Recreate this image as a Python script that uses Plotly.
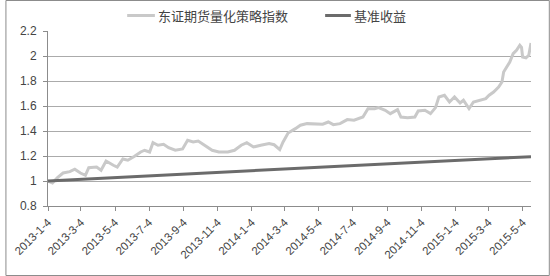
import plotly.graph_objects as go

# ---- data ----
index_dates = [
    "2013-01-04", "2013-01-12", "2013-01-21", "2013-01-31", "2013-02-12", "2013-02-21",
    "2013-03-03", "2013-03-12", "2013-03-18", "2013-04-01", "2013-04-09", "2013-04-18",
    "2013-05-01", "2013-05-08", "2013-05-18", "2013-05-27", "2013-06-08", "2013-06-19",
    "2013-06-26", "2013-07-05", "2013-07-11", "2013-07-20", "2013-07-30", "2013-08-08",
    "2013-08-20", "2013-09-02", "2013-09-11", "2013-09-21", "2013-09-30", "2013-10-12",
    "2013-10-25", "2013-11-06", "2013-11-22", "2013-12-04", "2013-12-16", "2013-12-26",
    "2014-01-07", "2014-01-20", "2014-02-04", "2014-02-13", "2014-02-23", "2014-03-01",
    "2014-03-10", "2014-03-23", "2014-04-01", "2014-04-13", "2014-05-02", "2014-05-11",
    "2014-05-21", "2014-05-30", "2014-06-11", "2014-06-24", "2014-07-06", "2014-07-22",
    "2014-07-31", "2014-08-12", "2014-08-19", "2014-08-31", "2014-09-09", "2014-09-22",
    "2014-09-28", "2014-10-10", "2014-10-23", "2014-10-29", "2014-11-10", "2014-11-20",
    "2014-11-29", "2014-12-05", "2014-12-15", "2014-12-24", "2015-01-02", "2015-01-12",
    "2015-01-18", "2015-01-28", "2015-02-05", "2015-02-18", "2015-02-27", "2015-03-05",
    "2015-03-13", "2015-03-22", "2015-03-28", "2015-03-31", "2015-04-06", "2015-04-11",
    "2015-04-17", "2015-04-23", "2015-04-29", "2015-05-02", "2015-05-04", "2015-05-10",
    "2015-05-15", "2015-05-19",
]
index_values = [
    1.000, 0.985, 1.027, 1.064, 1.075, 1.094,
    1.064, 1.046, 1.107, 1.112, 1.086, 1.160,
    1.126, 1.112, 1.176, 1.166, 1.198, 1.232,
    1.246, 1.232, 1.307, 1.286, 1.294, 1.267,
    1.246, 1.256, 1.326, 1.312, 1.320, 1.286,
    1.246, 1.232, 1.232, 1.246, 1.286, 1.307,
    1.272, 1.286, 1.299, 1.290, 1.251, 1.312,
    1.384, 1.419, 1.446, 1.459, 1.459, 1.454,
    1.472, 1.451, 1.459, 1.491, 1.486, 1.512,
    1.579, 1.579, 1.587, 1.566, 1.539, 1.571,
    1.512, 1.506, 1.512, 1.560, 1.566, 1.539,
    1.587, 1.672, 1.686, 1.632, 1.672, 1.624,
    1.646, 1.579, 1.632, 1.651, 1.659, 1.686,
    1.712, 1.752, 1.792, 1.872, 1.912, 1.952,
    2.019, 2.046, 2.086, 2.070, 1.992, 1.986,
    2.006, 2.104,
]
bench_dates = ["2013-01-04", "2013-07-04", "2014-01-04", "2014-07-04", "2015-01-04", "2015-05-19"]
bench_values = [1.000, 1.040, 1.080, 1.122, 1.160, 1.195]

tick_dates = [
    "2013-01-04", "2013-03-04", "2013-05-04", "2013-07-04", "2013-09-04", "2013-11-04",
    "2014-01-04", "2014-03-04", "2014-05-04", "2014-07-04", "2014-09-04", "2014-11-04",
    "2015-01-04", "2015-03-04", "2015-05-04",
]
tick_labels = [
    "2013-1-4", "2013-3-4", "2013-5-4", "2013-7-4", "2013-9-4", "2013-11-4",
    "2014-1-4", "2014-3-4", "2014-5-4", "2014-7-4", "2014-9-4", "2014-11-4",
    "2015-1-4", "2015-3-4", "2015-5-4",
]
y_ticks = [0.8, 1.0, 1.2, 1.4, 1.6, 1.8, 2.0, 2.2]
y_labels = ["0.8", "1", "1.2", "1.4", "1.6", "1.8", "2", "2.2"]
series_names = ["东证期货量化策略指数", "基准收益"]

c_index = "#c9c9c9"
c_bench = "#6b6b6b"
grid = "#ababab"
txt = "#444444"

fig = go.Figure()
fig.add_trace(go.Scatter(x=index_dates, y=index_values, mode="lines",
                         line=dict(color=c_index, width=3), name=series_names[0]))
fig.add_trace(go.Scatter(x=bench_dates, y=bench_values, mode="lines",
                         line=dict(color=c_bench, width=3), name=series_names[1]))

# plot area geometry (px): left 42.7, right 531, top 30.7, bottom 205.7
L, R, T, B = 43, 19, 31, 70
W = 550 - L - R
H = 276 - T - B

def px(xp):
    return (xp - L) / W

def py(yp):
    return (276 - B - yp) / H

shapes = []
# outer border
shapes.append(dict(type="rect", xref="paper", yref="paper",
                   x0=px(0.5), x1=px(549.5), y0=py(275.5), y1=py(0.5),
                   line=dict(color="#8c8c8c", width=1), fillcolor="rgba(0,0,0,0)", layer="above"))
# manual legend
leg_y = py(15.5)
shapes.append(dict(type="line", xref="paper", yref="paper", x0=px(123), x1=px(151), y0=leg_y, y1=leg_y,
                   line=dict(color=c_index, width=3)))
shapes.append(dict(type="line", xref="paper", yref="paper", x0=px(323), x1=px(349), y0=leg_y, y1=leg_y,
                   line=dict(color=c_bench, width=3)))
annotations = [
    dict(xref="paper", yref="paper", x=px(152), y=leg_y, xanchor="left", yanchor="middle",
         text=series_names[0], showarrow=False,
         font=dict(family="Noto Sans CJK SC", size=13, color=txt)),
    dict(xref="paper", yref="paper", x=px(350), y=leg_y, xanchor="left", yanchor="middle",
         text=series_names[1], showarrow=False,
         font=dict(family="Noto Sans CJK SC", size=13, color=txt)),
]

fig.update_layout(
    width=550, height=276,
    margin=dict(l=L, r=R, t=T, b=B),
    paper_bgcolor="white", plot_bgcolor="white",
    showlegend=False,
    shapes=shapes, annotations=annotations,
    font=dict(family="Liberation Sans", size=11, color=txt),
)
fig.update_xaxes(
    type="date", range=["2013-01-04", "2015-05-19"],
    tickmode="array", tickvals=tick_dates, ticktext=tick_labels,
    tickangle=-45, tickfont=dict(size=11.5, color=txt),
    ticks="outside", ticklen=4, tickcolor="#8c8c8c",
    showline=True, linecolor="#8c8c8c", linewidth=1,
    showgrid=False, zeroline=False,
)
fig.update_yaxes(
    range=[0.8, 2.2], tickmode="array", tickvals=y_ticks, ticktext=y_labels,
    tickfont=dict(size=12, color=txt),
    ticks="outside", ticklen=4, tickcolor="#8c8c8c",
    showline=True, linecolor="#8c8c8c", linewidth=1,
    showgrid=True, gridcolor=grid, gridwidth=1, zeroline=False,
    ticklabelstandoff=4,
)

fig.write_html("out.html")
